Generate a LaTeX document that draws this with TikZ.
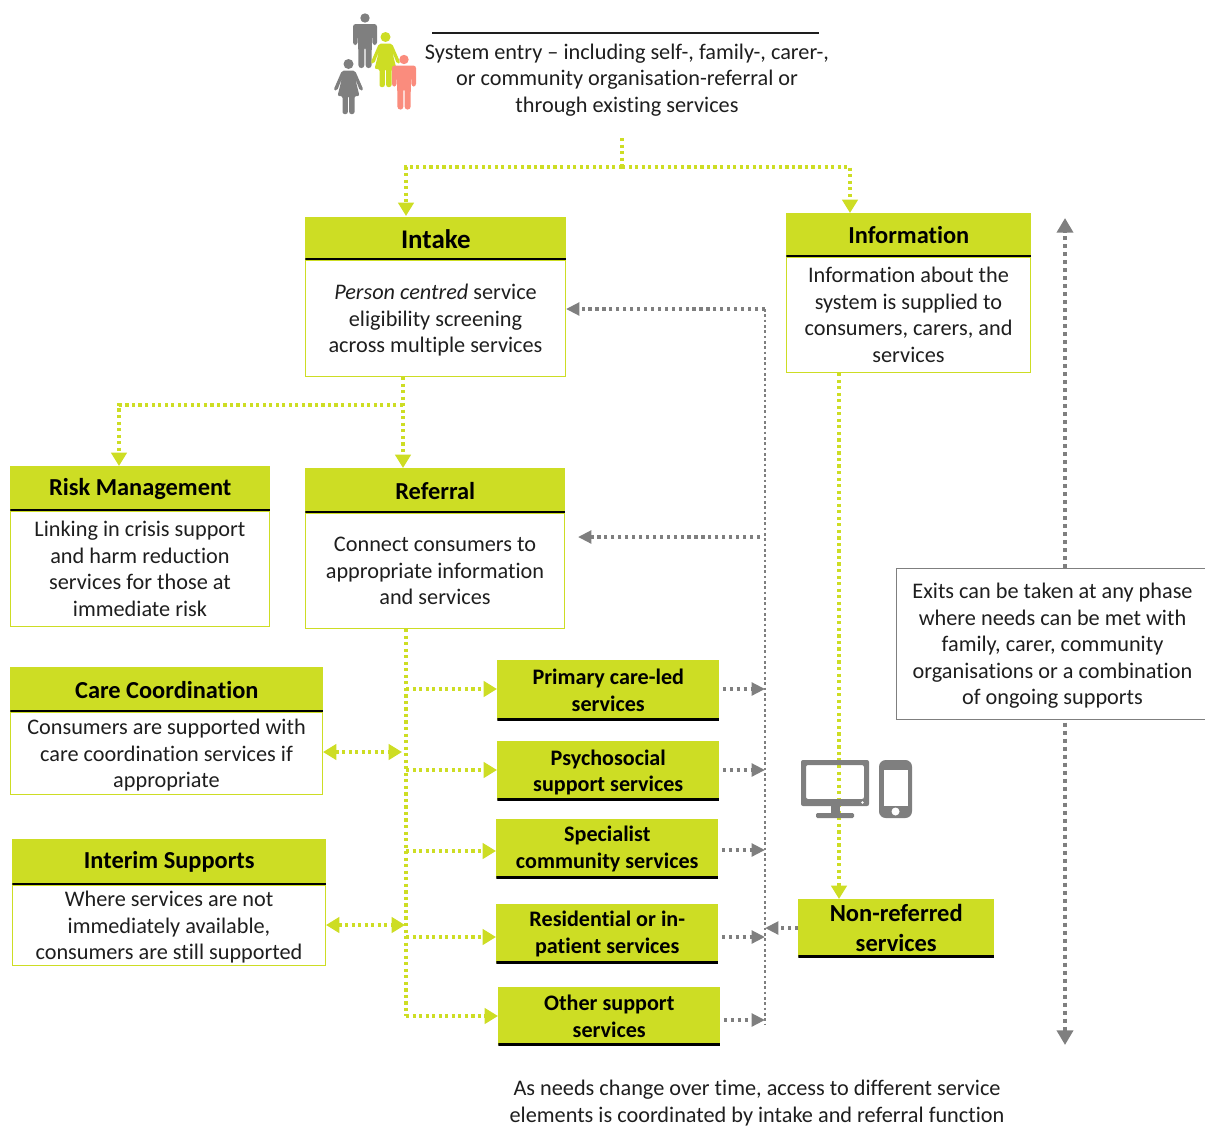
\documentclass[tikz,border=0pt]{standalone}
\usepackage{fontspec}
\setmainfont[RawFeature=-liga]{Carlito}
\usetikzlibrary{arrows.meta}
\definecolor{limegreen}{RGB}{205,221,36}
\definecolor{flowgrey}{RGB}{127,127,127}
\definecolor{salmon}{RGB}{250,140,125}
\definecolor{bodyink}{RGB}{30,30,30}
\tikzset{
boxsize/.style 2 args={minimum width=#1*.75pt, minimum height=#2*.75pt},
textdrop/.style={text depth=0pt},
bodybox/.style={draw=limegreen, line width=.75pt, anchor=north west, align=center, inner sep=0pt, text=bodyink, font=\fontsize{16.7}{19.9}\selectfont},
headbox/.style={fill=limegreen, anchor=north west, align=center, inner sep=0pt, font=\fontsize{18.3}{19.9}\selectfont\bfseries,
  path picture={\draw[black, line width=3pt] (path picture bounding box.south west)--(path picture bounding box.south east);}},
servicebox/.style={headbox, font=\fontsize{16.6}{19.9}\selectfont\bfseries},
limelink/.style={draw=limegreen, line width=2.4pt, dash pattern=on 2.4pt off 2.5pt, -{Triangle[length=10pt,width=11.5pt]}},
greylink/.style={draw=flowgrey, line width=2.4pt, dash pattern=on 2.4pt off 2.8pt, -{Triangle[length=10pt,width=9.5pt]}},
exitlink/.style={draw=flowgrey, line width=3.6pt, dash pattern=on 3pt off 3pt, -{Triangle[length=11pt,width=12pt]}},
plaintext/.style={align=center, inner sep=0pt, text=bodyink, font=\fontsize{16.7}{19.9}\selectfont}
}
% people, measured from the centre of the head
\newcommand{\manicon}[3]{
\begin{scope}[shift={(#1,#2)}]
\fill[#3] (0,0) circle (4.7);
\fill[#3, rounded corners=2pt] (-12,6)--(12,6)--(12,27)--(7.5,27)--(7,13)--(6.5,50)--(.7,50)--(.7,29)--(-.7,29)--(-.7,50)--(-6.5,50)--(-7,13)--(-7.5,27)--(-12,27)--cycle;
\end{scope}}
\newcommand{\womanicon}[3]{
\begin{scope}[shift={(#1,#2)}]
\fill[#3] (0,0) circle (5);
\fill[#3, rounded corners=1.5pt] (-6.5,6.5)--(6.5,6.5)--(15,26)--(11.5,27)--(6.5,14)--(11,32)--(6,32)--(6,50)--(.7,50)--(.7,32)--(-.7,32)--(-.7,50)--(-6,50)--(-6,32)--(-11,32)--(-6.5,14)--(-11.5,27)--(-15,26)--cycle;
\end{scope}}
\begin{document}
\begin{tikzpicture}[x=.75pt, y=-.75pt]
\useasboundingbox (0,0) rectangle (1205,1128);

% system entry
\manicon{365}{18}{flowgrey}
\womanicon{385.5}{37}{limegreen}
\manicon{404}{59.5}{salmon}
\womanicon{348.5}{64}{flowgrey}
\coordinate (ruleleft) at (432,33);
\coordinate (ruleright) at (819,33);
\draw[bodyink, line width=1.5pt] (ruleleft)--(ruleright);
\node[plaintext] (entry) at (627,80) {System entry -- including self-, family-, carer-,\\or community organisation-referral or\\through existing services};

% phases
\node[headbox, boxsize={261}{43}, font=\fontsize{20.2}{19.9}\selectfont\bfseries] (intakehead) at (305,217) {Intake};
\node[bodybox, textdrop, boxsize={260}{116}] (intakebody) at (305,260) {\textit{Person centred} service\\eligibility screening\\across multiple services};
\node[headbox, boxsize={245}{44}] (infohead) at (786,213) {Information};
\node[bodybox, boxsize={244}{115}] (infobody) at (786,257) {Information about the\\system is supplied to\\consumers, carers, and\\services};
\node[headbox, boxsize={260}{45}] (riskhead) at (10,466) {Risk Management};
\node[bodybox, boxsize={259}{115}] (riskbody) at (10,511) {Linking in crisis support\\and harm reduction\\services for those at\\immediate risk};
\node[headbox, boxsize={260}{45}] (referralhead) at (305,468) {Referral};
\node[bodybox, boxsize={259}{115}] (referralbody) at (305,513) {Connect consumers to\\appropriate information\\and services};
\node[headbox, boxsize={313}{45}] (carehead) at (10,667) {Care Coordination};
\node[bodybox, textdrop, boxsize={312}{82}] (carebody) at (10,712) {Consumers are supported with\\care coordination services if\\appropriate};
\node[headbox, boxsize={314}{46}] (interimhead) at (12,839) {Interim Supports};
\node[bodybox, textdrop, boxsize={313}{80}] (interimbody) at (12,885) {Where services are not\\immediately available,\\consumers are still supported};

% services
\node[servicebox, boxsize={222}{60}] (primary) at (497,660) {Primary care-led\\services};
\node[servicebox, textdrop, boxsize={222}{59}] (psycho) at (497,741) {Psychosocial\\support services};
\node[servicebox, boxsize={222}{59}] (specialist) at (496,819) {Specialist\\community services};
\node[servicebox, boxsize={222}{59}] (residential) at (496,904) {Residential or in-\\patient services};
\node[servicebox, boxsize={222}{58}] (other) at (498,987) {Other support\\services};
\node[headbox, boxsize={196}{58}, font=\fontsize{18.4}{22.5}\selectfont\bfseries] (nonreferred) at (798,899) {Non-referred\\services};

% lime links
\coordinate (entrydrop) at (622,138);
\coordinate (entrysplit) at (622,167);
\coordinate (intakein) at (406,216);
\coordinate (infoin) at (850,213);
\draw[limelink,-] (entrydrop)--(entrysplit);
\draw[limelink] (entrysplit)-|(intakein);
\draw[limelink] (entrysplit)-|(infoin);
\coordinate (intakesplit) at (403,405);
\coordinate (riskin) at (119,405);
\draw[limelink] (intakebody.south -| intakesplit)--(referralhead.north -| intakesplit);
\draw[limelink] (intakesplit)-|(riskhead.north -| riskin);
\coordinate (trunkend) at (406,1016);
\draw[limelink,-] (referralbody.south -| trunkend)--(trunkend);
\foreach \svc/\yy in {primary/689, psycho/770, specialist/851, residential/937, other/1016}{
\coordinate (\svc tap) at (406,\yy);
\draw[limelink] (\svc tap)--(\svc.west |- \svc tap);
}
\coordinate (caretap) at (402,752);
\coordinate (interimtap) at (405,925);
\draw[limelink, {Triangle[length=10pt,width=11.5pt]}-{Triangle[length=10pt,width=11.5pt]}] (carebody.east |- caretap)--(caretap);
\draw[limelink, {Triangle[length=10pt,width=11.5pt]}-{Triangle[length=10pt,width=11.5pt]}] (interimbody.east |- interimtap)--(interimtap);
\coordinate (infodrop) at (839,372);
\draw[limelink] (infobody.south -| infodrop)--(nonreferred.north -| infodrop);

% devices
\fill[flowgrey, even odd rule, rounded corners=1.5pt] (801,760) rectangle (869,806) (806,765) rectangle (864,799);
\fill[flowgrey] (831,806) rectangle (840,813);
\fill[flowgrey, rounded corners=1pt] (816,813) rectangle (854,818);
\fill[white] (862.5,802.5) circle (1.3);
\fill[flowgrey, rounded corners=5pt] (879,760) rectangle (912,818);
\fill[white] (884,770) rectangle (908,806);
\fill[white] (895.5,811.5) circle (4);

% grey links
\coordinate (returntop) at (765,309);
\coordinate (returnend) at (765,1025);
\coordinate (referralstart) at (760,537);
\coordinate (referralgap) at (578,537);
\draw[greylink, line width=2.2pt, dash pattern=on 2pt off 2pt, -] (returntop)--(returnend);
\draw[greylink] (returntop)--(intakebody.east |- returntop);
\draw[greylink] (referralstart)--(referralgap);
\foreach \svc/\yy in {primary/689, psycho/770, specialist/850, residential/937, other/1020}{
\coordinate (\svc back) at (765,\yy);
\draw[greylink] ([xshift=2.5pt]\svc.east |- \svc back)--(\svc back);
}
\coordinate (nonreferredback) at (765,928);
\draw[greylink] (nonreferred.west |- nonreferredback)--(nonreferredback);

% exits
\node[draw=flowgrey, line width=.75pt, anchor=north west, boxsize={312}{151}, align=center, inner sep=0pt, text=bodyink, textdrop, font=\fontsize{16.7}{19.9}\selectfont] (exits) at (896,568) {Exits can be taken at any phase\\where needs can be met with\\family, carer, community\\organisations or a combination\\of ongoing supports};
\coordinate (exitup) at (1065,218);
\coordinate (exitdown) at (1065,1045);
\draw[exitlink] (exits.north -| exitup)--(exitup);
\draw[exitlink] ([yshift=-2pt]exits.south -| exitdown)--(exitdown);

\node[plaintext] (changes) at (757,1103) {As needs change over time, access to different service\\elements is coordinated by intake and referral function};
\end{tikzpicture}
\end{document}
